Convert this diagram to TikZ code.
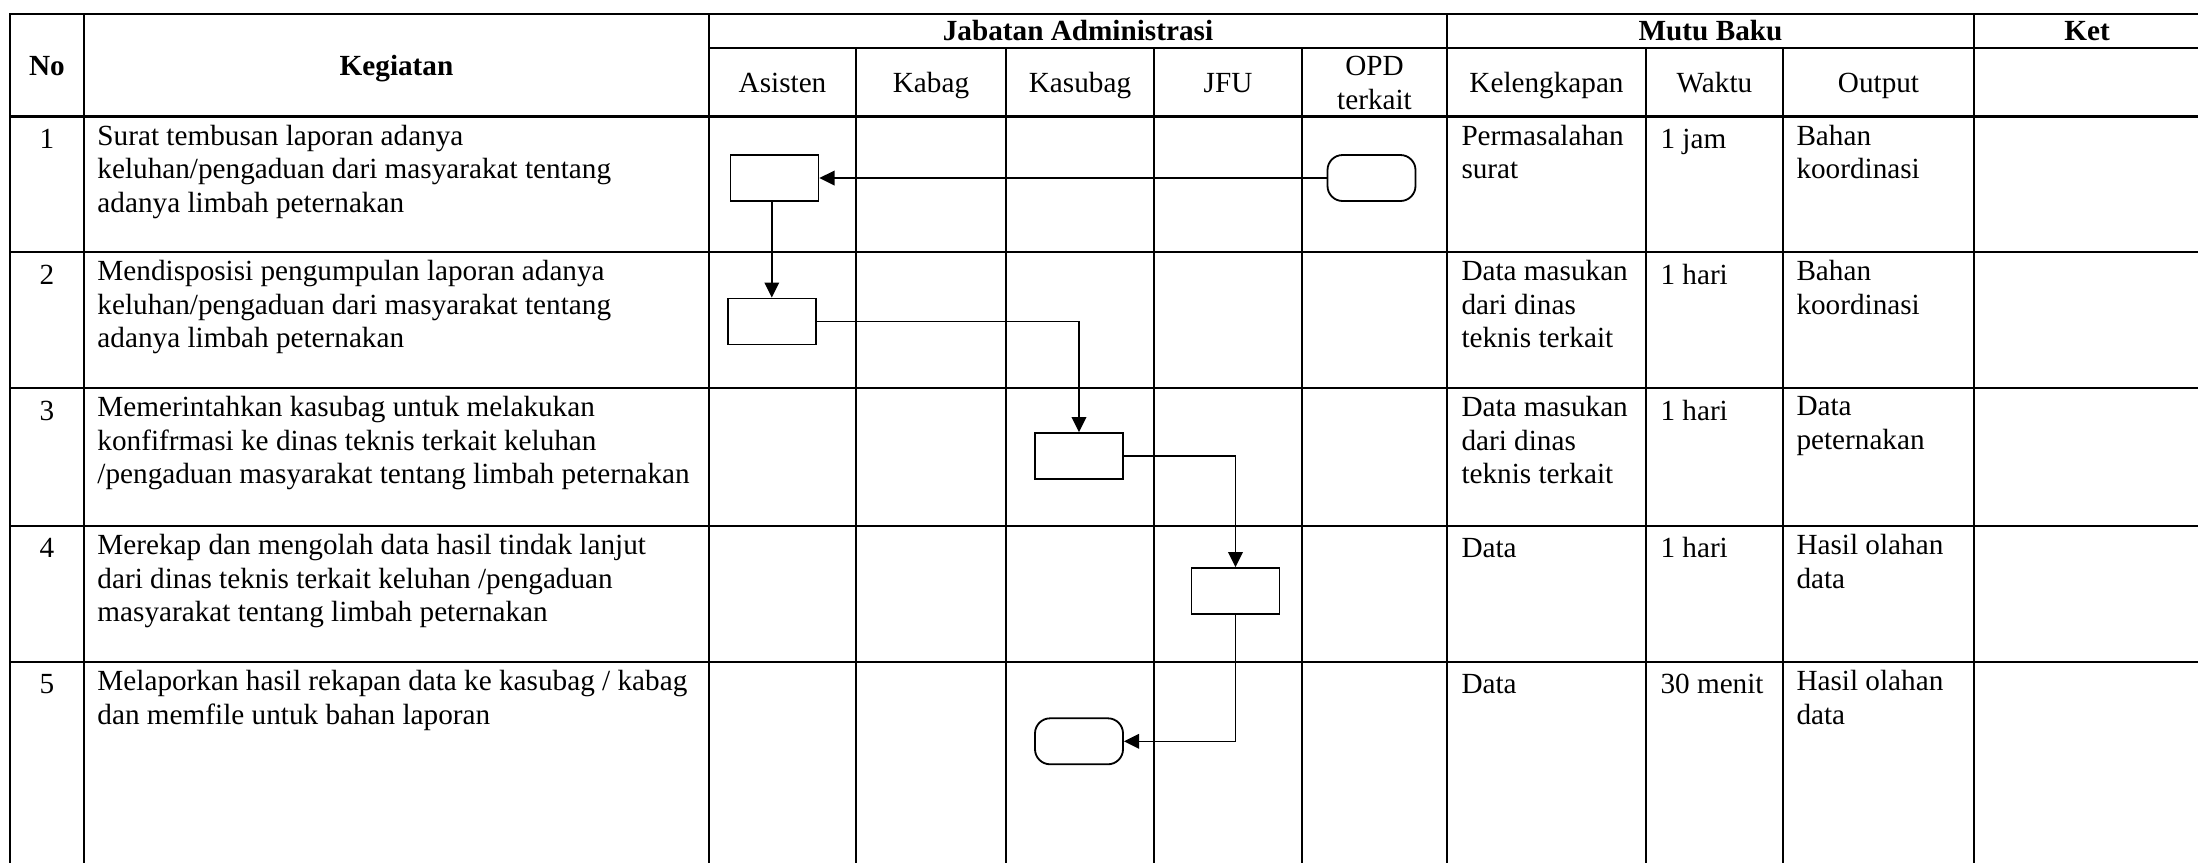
\documentclass[tikz,border=0pt]{standalone}
\usepackage{fontspec}
\setmainfont{Liberation Serif}
\usetikzlibrary{arrows.meta}
\newcommand\pxu{0.4107pt}
\tikzset{
  grid/.style={line width=0.85pt, line cap=rect},
  cell/.style={anchor=north west, align=left, inner sep=0pt,
    font=\fontsize{12}{13.8}\selectfont, execute at begin node=\strut},
  numcell/.style={anchor=north, align=center, inner sep=0pt,
    font=\fontsize{12}{13.8}\selectfont, execute at begin node=\strut},
  head/.style={anchor=base, inner sep=0pt, font=\fontsize{12}{13.8}\selectfont\bfseries},
  subhead/.style={anchor=base, inner sep=0pt, font=\fontsize{12}{13.8}\selectfont},
  procbox/.style={draw, line width=0.75pt, minimum width={88*\pxu}, minimum height={46*\pxu}, inner sep=0pt},
  termbox/.style={draw, line width=0.75pt, rounded corners=6.2pt, minimum width={88*\pxu}, minimum height={46*\pxu}, inner sep=0pt},
  flow/.style={line width=0.65pt, -{Triangle[length=6.2pt,width=6pt]}}
}
\begin{document}
\begin{tikzpicture}[x=0.4107pt, y=-0.4107pt]
\useasboundingbox (0,0) rectangle (2198,862);
% horizontal grid lines
\draw[grid] (10,14) -- (2210,14);
\draw[grid] (709,48) -- (2210,48);
\foreach \yy in {116.5,252,388,525.7,661.7}
  \draw[grid] (10,\yy) -- (2210,\yy);
% vertical grid lines
\foreach \xx in {10,84,709,1447,1974}
  \draw[grid] (\xx,14) -- (\xx,880);
\foreach \xx in {856,1006,1154,1302,1646,1783}
  \draw[grid] (\xx,48) -- (\xx,880);
% headers
\node[head] (hno) at (47,75) {No};
\node[head] (hkeg) at (396.5,75) {Kegiatan};
\node[head] (hjab) at (1078,40) {Jabatan Administrasi};
\node[head] (hmutu) at (1710.5,40) {Mutu Baku};
\node[head] (hket) at (2087,40) {Ket};
\node[subhead] (hasis) at (782.5,92.5) {Asisten};
\node[subhead] (hkabag) at (931,92.5) {Kabag};
\node[subhead] (hkasub) at (1080,92.5) {Kasubag};
\node[subhead] (hjfu) at (1228,92.5) {JFU};
\node[numcell] (hopd) at (1374.5,56) {OPD\\terkait};
\node[subhead] (hkel) at (1546.5,92.5) {Kelengkapan};
\node[subhead] (hwak) at (1714.5,92.5) {Waktu};
\node[subhead] (hout) at (1878.5,92.5) {Output};
% row 1
\node[numcell] (n1) at (47,124.5) {1};
\node[cell] (k1) at (97,124.5) {Surat tembusan laporan adanya\\keluhan/pengaduan dari masyarakat tentang\\adanya limbah peternakan};
\node[cell] (l1) at (1461,124.5) {Permasalahan\\surat};
\node[cell] (w1) at (1660,124.5) {1 jam};
\node[cell] (o1) at (1796,124.5) {Bahan\\koordinasi};
% row 2
\node[numcell] (n2) at (47,260) {2};
\node[cell] (k2) at (97,260) {Mendisposisi pengumpulan laporan adanya\\keluhan/pengaduan dari masyarakat tentang\\adanya limbah peternakan};
\node[cell] (l2) at (1461,260) {Data masukan\\dari dinas\\teknis terkait};
\node[cell] (w2) at (1660,260) {1 hari};
\node[cell] (o2) at (1796,260) {Bahan\\koordinasi};
% row 3
\node[numcell] (n3) at (47,396) {3};
\node[cell] (k3) at (97,396) {Memerintahkan kasubag untuk melakukan\\konfifrmasi ke dinas teknis terkait keluhan\\/pengaduan masyarakat tentang limbah peternakan};
\node[cell] (l3) at (1461,396) {Data masukan\\dari dinas\\teknis terkait};
\node[cell] (w3) at (1660,396) {1 hari};
\node[cell] (o3) at (1796,396) {Data\\peternakan};
% row 4
\node[numcell] (n4) at (47,533.7) {4};
\node[cell] (k4) at (97,533.7) {Merekap dan mengolah data hasil tindak lanjut\\dari dinas teknis terkait keluhan /pengaduan\\masyarakat tentang limbah peternakan};
\node[cell] (l4) at (1461,533.7) {Data};
\node[cell] (w4) at (1660,533.7) {1 hari};
\node[cell] (o4) at (1796,533.7) {Hasil olahan\\data};
% row 5
\node[numcell] (n5) at (47,669.7) {5};
\node[cell] (k5) at (97,669.7) {Melaporkan hasil rekapan data ke kasubag / kabag\\dan memfile untuk bahan laporan};
\node[cell] (l5) at (1461,669.7) {Data};
\node[cell] (w5) at (1660,669.7) {30 menit};
\node[cell] (o5) at (1796,669.7) {Hasil olahan\\data};
% flow shapes
\node[procbox] (r1) at (774.5,178) {};
\node[termbox] (t1) at (1371.5,178) {};
\node[procbox] (r2) at (771.8,321.5) {};
\node[procbox] (r3) at (1079,456) {};
\node[procbox] (r4) at (1235.5,591) {};
\node[termbox] (t5) at (1079,741.3) {};
% connectors
\draw[flow] (t1.west) -- (r1.east);
\draw[flow] (r2.north |- r1.south) -- (r2.north);
\draw[flow] (r2.east) -| (r3.north);
\draw[flow] (r3.east) -| (r4.north);
\draw[flow] (r4.south) |- (t5.east);
\end{tikzpicture}
\end{document}
